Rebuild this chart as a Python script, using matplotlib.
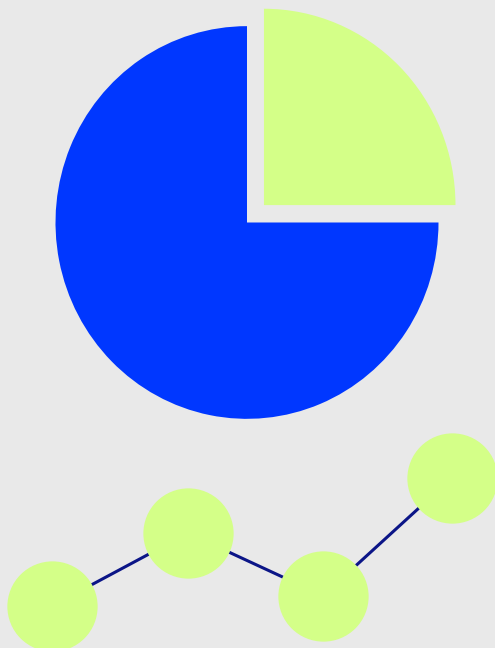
import matplotlib.pyplot as plt

# pie shares
shares = [75, 25]
pie_colors = ['#0037ff', '#d4ff88']

# trend line (dot positions)
line_x = [52, 188, 323, 452]
line_y = [41, 112, 51, 166]

bg = '#e9e9e9'

fig = plt.figure(figsize=(4.95, 6.48), dpi=100, facecolor=bg)
ax = fig.add_axes([0, 0, 1, 1])
ax.set_facecolor(bg)

ax.pie(shares, colors=pie_colors, startangle=90, counterclock=True,
       explode=[0, 24], center=(247, 415), radius=191.5,
       wedgeprops=dict(linewidth=0))

ax.plot(line_x, line_y, color='#0b1587', linewidth=2.2,
        marker='o', markersize=65, markerfacecolor='#d4ff88',
        markeredgewidth=0, zorder=3)

# slightly taller than wide, like the original
ax.set_aspect('auto')
ax.set_xlim(0, 495)
ax.set_ylim(0, 632)
ax.axis('off')

fig.savefig('out.png', dpi=100, facecolor=bg)
